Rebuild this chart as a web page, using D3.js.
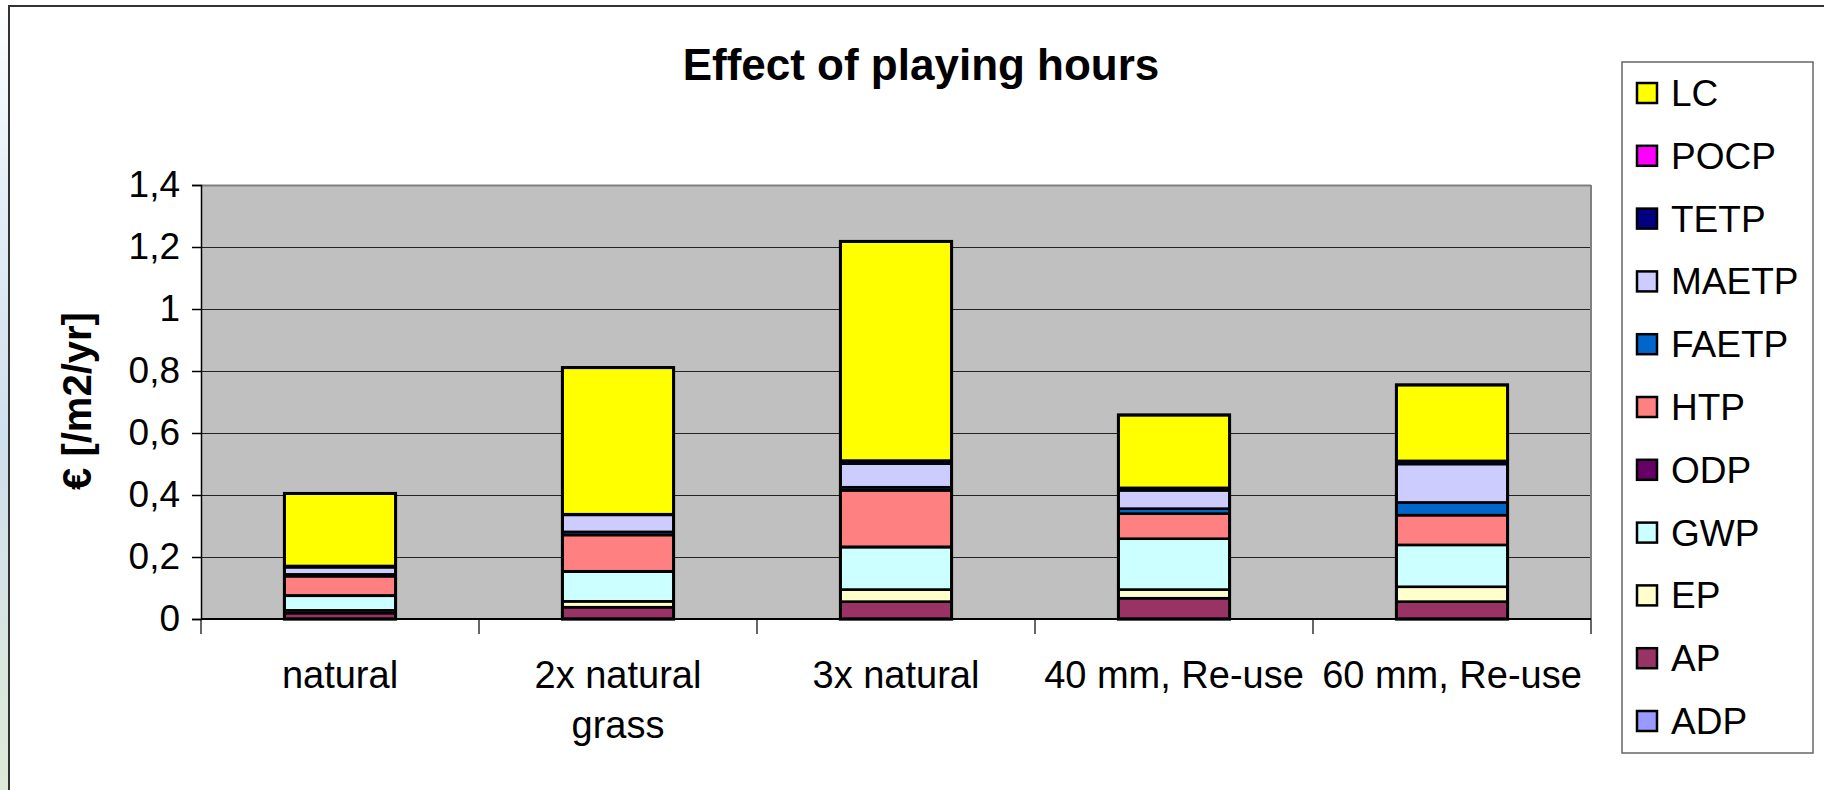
<!DOCTYPE html>
<html>
<head>
<meta charset="utf-8">
<script src="https://cdn.jsdelivr.net/npm/d3@7/dist/d3.min.js"></script>
<style>
  html, body { margin: 0; padding: 0; background: #fff; }
  svg { display: block; font-family: "Liberation Sans", Arial, sans-serif; }
</style>
</head>
<body>
<svg id="chart" width="1824" height="790"></svg>
<script>
// ---- Data ----
const categories = ["natural", "2x natural grass", "3x natural", "40 mm, Re-use", "60 mm, Re-use"];
const categoryLines = [["natural"], ["2x natural", "grass"], ["3x natural"], ["40 mm, Re-use"], ["60 mm, Re-use"]];
// stacking order bottom -> top
const seriesNames = ["ADP", "AP", "EP", "GWP", "ODP", "HTP", "FAETP", "MAETP", "TETP", "POCP", "LC"];
const seriesColors = ["#9999FF", "#993366", "#FFFFCC", "#CCFFFF", "#660066", "#FF8080", "#0066CC", "#CCCCFF", "#000080", "#FF00FF", "#FFFF00"];
const ADP   = [0.000, 0.000, 0.000, 0.000, 0.000];
const AP    = [0.019, 0.038, 0.056, 0.067, 0.056];
const EP    = [0.009, 0.019, 0.039, 0.028, 0.048];
const GWP   = [0.047, 0.096, 0.137, 0.164, 0.135];
const ODP   = [0.001, 0.001, 0.001, 0.000, 0.000];
const HTP   = [0.062, 0.117, 0.182, 0.081, 0.096];
const FAETP = [0.006, 0.010, 0.010, 0.016, 0.041];
const MAETP = [0.023, 0.055, 0.076, 0.059, 0.124];
const TETP  = [0.004, 0.002, 0.010, 0.008, 0.010];
const POCP  = [0.000, 0.000, 0.000, 0.000, 0.000];
const LC    = [0.234, 0.473, 0.707, 0.235, 0.245];
const seriesValues = [ADP, AP, EP, GWP, ODP, HTP, FAETP, MAETP, TETP, POCP, LC];
const yTicks = [0, 0.2, 0.4, 0.6, 0.8, 1, 1.2, 1.4];
const legendOrder = ["LC", "POCP", "TETP", "MAETP", "FAETP", "HTP", "ODP", "GWP", "EP", "AP", "ADP"];
const titleText = "Effect of playing hours";
const yTitleText = "€ [/m2/yr]";

// ---- Layout ----
const svg = d3.select("#chart");
const plot = { left: 201, right: 1591, top: 185, bottom: 619 };

// background strip on left edge (slide background)
const defs = svg.append("defs");
const grad = defs.append("linearGradient").attr("id", "bgstrip").attr("x1", 0).attr("y1", 0).attr("x2", 0).attr("y2", 1);
grad.append("stop").attr("offset", "0%").attr("stop-color", "#ffffff");
grad.append("stop").attr("offset", "25%").attr("stop-color", "#e4eef6");
grad.append("stop").attr("offset", "55%").attr("stop-color", "#cfe0ee");
grad.append("stop").attr("offset", "100%").attr("stop-color", "#dfead8");
svg.append("rect").attr("x", 0).attr("y", 0).attr("width", 9).attr("height", 790).attr("fill", "url(#bgstrip)");

// chart frame
svg.append("rect").attr("x", 9).attr("y", 6).attr("width", 1830).attr("height", 800)
  .attr("fill", "#fff").attr("stroke", "#333").attr("stroke-width", 2);

// scales
const x = d3.scaleBand().domain(categories).range([plot.left, plot.right]).paddingInner(0).paddingOuter(0);
const y = d3.scaleLinear().domain([0, 1.4]).range([plot.bottom, plot.top]);

// plot background
svg.append("rect").attr("x", plot.left).attr("y", plot.top)
  .attr("width", plot.right - plot.left).attr("height", plot.bottom - plot.top)
  .attr("fill", "#C0C0C0");

// gridlines
svg.append("g").selectAll("line").data(yTicks.filter(d => d > 0)).join("line")
  .attr("x1", plot.left).attr("x2", plot.right)
  .attr("y1", d => Math.round(y(d)) + 0.5).attr("y2", d => Math.round(y(d)) + 0.5)
  .attr("stroke", d => d === 1.4 ? "#808080" : "#222").attr("stroke-width", d => d === 1.4 ? 2 : 1.2);

// plot right border
svg.append("line").attr("x1", plot.right).attr("x2", plot.right).attr("y1", plot.top).attr("y2", plot.bottom)
  .attr("stroke", "#808080").attr("stroke-width", 2);

// stacked data
const table = categories.map((c, i) => {
  const o = { category: c };
  seriesNames.forEach((s, j) => { o[s] = seriesValues[j][i]; });
  return o;
});
const stacked = d3.stack().keys(seriesNames)(table);
const color = d3.scaleOrdinal().domain(seriesNames).range(seriesColors);

const barW = x.bandwidth() * 0.4;
svg.append("g").selectAll("g").data(stacked).join("g")
  .attr("fill", d => color(d.key))
  .selectAll("rect").data(d => d).join("rect")
  .attr("x", d => x(d.data.category) + (x.bandwidth() - barW) / 2)
  .attr("y", d => y(d[1]))
  .attr("width", barW)
  .attr("height", d => Math.max(0, y(d[0]) - y(d[1])))
  .attr("stroke", "#000").attr("stroke-width", 2.6);

// outer outline of each bar (thicker)
const totals = table.map(d => d3.sum(seriesNames, s => d[s]));
svg.append("g").selectAll("rect").data(categories).join("rect")
  .attr("x", c => x(c) + (x.bandwidth() - barW) / 2)
  .attr("y", (c, i) => y(totals[i]))
  .attr("width", barW)
  .attr("height", (c, i) => y(0) - y(totals[i]))
  .attr("fill", "none").attr("stroke", "#000").attr("stroke-width", 3);

// y axis
const yAxis = d3.axisLeft(y).tickValues(yTicks).tickSize(9).tickPadding(12)
  .tickFormat(d => d3.format("~g")(d).replace(".", ","));
const gy = svg.append("g").attr("transform", `translate(${plot.left},0)`).call(yAxis);
gy.select(".domain").attr("stroke", "#000").attr("stroke-width", 1.5);
gy.selectAll(".tick line").attr("stroke", "#000").attr("stroke-width", 1.5);
gy.selectAll(".tick text").attr("font-size", 37).attr("fill", "#000")
  .attr("font-family", "Liberation Sans, Arial, sans-serif");

// x axis (ticks at category boundaries)
const gx = svg.append("g").attr("transform", `translate(0,${plot.bottom})`);
gx.append("line").attr("x1", plot.left).attr("x2", plot.right).attr("y1", 0).attr("y2", 0)
  .attr("stroke", "#000").attr("stroke-width", 2);
const boundaries = categories.map(c => x(c)).concat([x(categories[categories.length - 1]) + x.bandwidth()]);
gx.selectAll("line.tk").data(boundaries).join("line").attr("class", "tk")
  .attr("x1", d => d).attr("x2", d => d).attr("y1", 0).attr("y2", 15)
  .attr("stroke", "#000").attr("stroke-width", 1.2);
gx.selectAll("text").data(categories).join("text")
  .attr("x", c => x(c) + x.bandwidth() / 2)
  .attr("y", 69)
  .attr("text-anchor", "middle").attr("font-size", 38).attr("fill", "#000")
  .each(function (c, i) {
    const t = d3.select(this);
    categoryLines[i].forEach((ln, k) => {
      t.append("tspan").attr("x", x(c) + x.bandwidth() / 2).attr("dy", k === 0 ? 0 : 50).text(ln);
    });
  });

// title
svg.append("text").attr("x", 921).attr("y", 80).attr("text-anchor", "middle")
  .attr("font-size", 44).attr("font-weight", "bold").attr("fill", "#000").text(titleText);

// y title
svg.append("text").attr("transform", "translate(91,401) rotate(-90)")
  .attr("text-anchor", "middle").attr("font-size", 40).attr("font-weight", "bold")
  .attr("fill", "#000").text(yTitleText);

// legend
const lg = svg.append("g");
lg.append("rect").attr("x", 1622).attr("y", 62).attr("width", 191).attr("height", 691)
  .attr("fill", "#fff").attr("stroke", "#666").attr("stroke-width", 1.5);
const items = lg.selectAll("g").data(legendOrder).join("g")
  .attr("transform", (d, i) => `translate(0,${93 + i * 62.8})`);
items.append("rect").attr("x", 1637).attr("y", -10).attr("width", 20).attr("height", 20)
  .attr("fill", d => color(d)).attr("stroke", "#000").attr("stroke-width", 2.5);
items.append("text").attr("x", 1671).attr("y", 13).attr("font-size", 37).attr("fill", "#000").text(d => d);
</script>
</body>
</html>
